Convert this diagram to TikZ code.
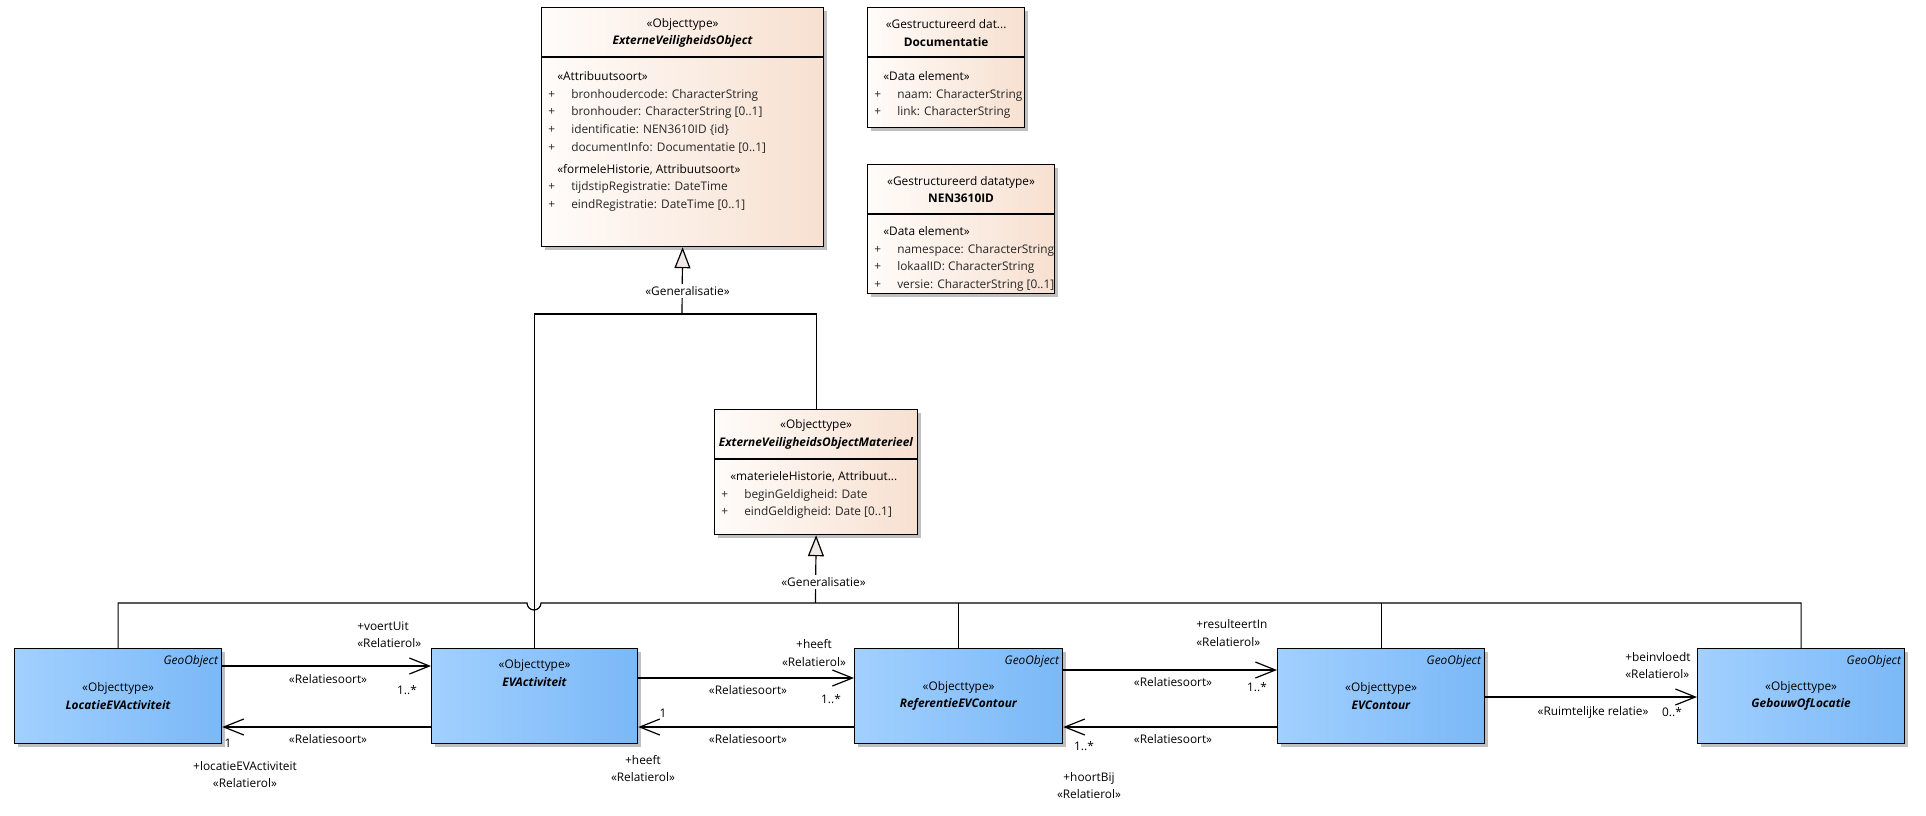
\documentclass[tikz,border=0pt]{standalone}
\usepackage{fontspec}
\setmainfont{Open Sans}
\usepackage{xcolor}
\usepackage{tikz}
\usetikzlibrary{arrows.meta, positioning, shadows, calc}

\definecolor{beigeL}{HTML}{FFFCFA}
\definecolor{beigeR}{HTML}{F7E0D0}
\definecolor{blauwL}{HTML}{A2D0FF}
\definecolor{blauwR}{HTML}{7AB8F7}
\definecolor{driehoek}{HTML}{F1E9E6}
\newcommand\attr[1]{\makebox[17.25pt][l]{+}#1}
\newcommand\stereo[1]{\hspace*{6.75pt}\textcolor{black}{#1}}

\begin{document}
\begin{tikzpicture}[x=0.75pt, y=-0.75pt,
  font=\fontsize{8.9}{13.2}\selectfont,
  maat/.style 2 args={minimum width=#1*0.75pt, minimum height=#2*0.75pt},
  klasse/.style={draw, line width=0.9pt, anchor=north west, inner sep=0pt,
                 left color=beigeL, right color=beigeR,
                 drop shadow={shadow xshift=2.5pt, shadow yshift=-2.5pt, fill=black, opacity=0.25}},
  geoklasse/.style={klasse, left color=blauwL, right color=blauwR},
  kop/.style={align=center, inner sep=0pt},
  geo/.style={anchor=east, inner sep=0pt, font=\fontsize{8.9}{13.2}\selectfont\itshape},
  lijst/.style={align=left, anchor=west, inner sep=0pt, text=black!85},
  lbl/.style={inner sep=0pt},
  gen/.style={line width=0.9pt},
  genpijl/.style={gen, -{Triangle[length=15.75pt, width=12pt, fill=driehoek]}},
  assoc/.style={line width=0.9pt, -{Straight Barb[length=15pt, width=12pt, line width=0.9pt]}},
]
  \useasboundingbox (0,0) rectangle (1926,815);

  \node[klasse, maat={282}{239}] (evo)  at (541,7)   {};
  \node[klasse, maat={157}{120}] (doc)  at (867,7)   {};
  \node[klasse, maat={187}{129}] (nen)  at (867,164) {};
  \node[klasse, maat={203}{125}] (evom) at (714,409) {};

  \node[geoklasse, maat={207}{95}] (loc)   at (14,648)   {};
  \node[geoklasse, maat={206}{95}] (evact) at (431,648)  {};
  \node[geoklasse, maat={208}{95}] (ref)   at (854,648)  {};
  \node[geoklasse, maat={207}{95}] (evc)   at (1277,648) {};
  \node[geoklasse, maat={207}{95}] (geb)   at (1697,648) {};

  \foreach \k/\d in {evo/50, doc/50, nen/50, evom/50}
    \draw[gen] ($(\k.north west)+(0,\d)$) -- ($(\k.north east)+(0,\d)$);

  \node[kop] (evo-kop)  at ($(evo.north)+(0,26)$)  {«Objecttype»\\\textbf{\textit{ExterneVeiligheidsObject}}};
  \node[kop] (doc-kop)  at ($(doc.north)+(0,26)$)  {«Gestructureerd dat...\\\textbf{Documentatie}};
  \node[kop] (nen-kop)  at ($(nen.north)+(0,25.5)$) {«Gestructureerd datatype»\\\textbf{NEN3610ID}};
  \node[kop] (evom-kop) at ($(evom.north)+(0,25.5)$) {«Objecttype»\\\textbf{\textit{ExterneVeiligheidsObjectMaterieel}}};

  \node[lijst] (evo-attr) at (548,141.5) {\stereo{«Attribuutsoort»}\\
    \attr{bronhoudercode: CharacterString}\\
    \attr{bronhouder: CharacterString [0..1]}\\
    \attr{identificatie: NEN3610ID \{id\}}\\
    \attr{documentInfo: Documentatie [0..1]}\\[3.4pt]
    \stereo{«formeleHistorie, Attribuutsoort»}\\
    \attr{tijdstipRegistratie: DateTime}\\
    \attr{eindRegistratie: DateTime [0..1]}};
  \node[lijst] (doc-attr) at (874,95) {\stereo{«Data element»}\\
    \attr{naam: CharacterString}\\
    \attr{link: CharacterString}};
  \node[lijst] (nen-attr) at (874,259) {\stereo{«Data element»}\\
    \attr{namespace: CharacterString}\\
    \attr{lokaalID: CharacterString}\\
    \attr{versie: CharacterString [0..1]}};
  \node[lijst] (evom-attr) at (721,495) {\stereo{«materieleHistorie, Attribuut...}\\
    \attr{beginGeldigheid: Date}\\
    \attr{eindGeldigheid: Date [0..1]}};

  \foreach \k/\n in {loc/LocatieEVActiviteit, ref/ReferentieEVContour, evc/EVContour, geb/GebouwOfLocatie} {
    \node[geo] (\k-geo) at ($(\k.north east)+(-4,13)$) {GeoObject};
    \node[kop] (\k-kop) at ($(\k.north)+(0,48)$) {«Objecttype»\\\textbf{\textit{\n}}};
  }
  \node[kop] (evact-kop) at ($(evact.north)+(0,25)$) {«Objecttype»\\\textbf{\textit{EVActiviteit}}};

  \coordinate (splits) at (682,314);
  \coordinate (bus) at (815.5,603);
  \coordinate (hopL) at (527,603);
  \draw[gen] (evact.north) |- (splits) -| (evom.north);
  \draw[genpijl] (splits) -- (evo.south);
  \draw[gen] (loc.north) |- (hopL) arc[start angle=180, end angle=0, radius=7] -| (geb.north);
  \draw[gen] (ref.north) -- (ref.north |- bus);
  \draw[gen] (evc.north) -- (evc.north |- bus);
  \draw[genpijl] (bus) -- (evom.south);
  \node[lbl, fill=white, inner sep=1.5pt] (gen1) at (687.5,291) {«Generalisatie»};
  \node[lbl, fill=white, inner sep=1.5pt] (gen2) at (823.5,582) {«Generalisatie»};

  \draw[assoc] (loc.east |- 0,666) -- (evact.west |- 0,666);
  \draw[assoc] (evact.west |- 0,727) -- (loc.east |- 0,727);
  \draw[assoc] (evact.east |- 0,678) -- (ref.west |- 0,678);
  \draw[assoc] (ref.west |- 0,727) -- (evact.east |- 0,727);
  \draw[assoc] (ref.east |- 0,670) -- (evc.west |- 0,670);
  \draw[assoc] (evc.west |- 0,727) -- (ref.east |- 0,727);
  \draw[assoc] (evc.east |- 0,697) -- (geb.west |- 0,697);

  \node[lbl] (s1) at (328,679) {«Relatiesoort»};
  \node[lbl] (s2) at (328,739) {«Relatiesoort»};
  \node[lbl] (s3) at (748,690) {«Relatiesoort»};
  \node[lbl] (s4) at (748,739) {«Relatiesoort»};
  \node[lbl] (s5) at (1173,682) {«Relatiesoort»};
  \node[lbl] (s6) at (1173,739) {«Relatiesoort»};
  \node[lbl] (s7) at (1593,712) {«Ruimtelijke relatie»};

  \node[lbl] (m1) at (407,690) {1..*};
  \node[lbl] (m2) at (228,743) {1};
  \node[lbl] (m3) at (831,699) {1..*};
  \node[lbl] (m4) at (663,713) {1};
  \node[lbl] (m5) at (1257,687) {1..*};
  \node[lbl] (m6) at (1084,746) {1..*};
  \node[lbl] (m7) at (1672,712) {0..*};

  \node[lbl, align=left, anchor=west] (r1) at (357,634.5) {+voertUit\\«Relatierol»};
  \node[lbl, align=center] (r2) at (245,774.5) {+locatieEVActiviteit\\«Relatierol»};
  \node[lbl, align=center] (r3) at (814,653) {+heeft\\«Relatierol»};
  \node[lbl, align=center] (r4) at (643,768.5) {+heeft\\«Relatierol»};
  \node[lbl, align=left, anchor=west] (r5) at (1196,633) {+resulteertIn\\«Relatierol»};
  \node[lbl, align=center] (r6) at (1089,785.5) {+hoortBij\\«Relatierol»};
  \node[lbl, align=left, anchor=west] (r7) at (1625,665.5) {+beinvloedt\\«Relatierol»};
\end{tikzpicture}
\end{document}
